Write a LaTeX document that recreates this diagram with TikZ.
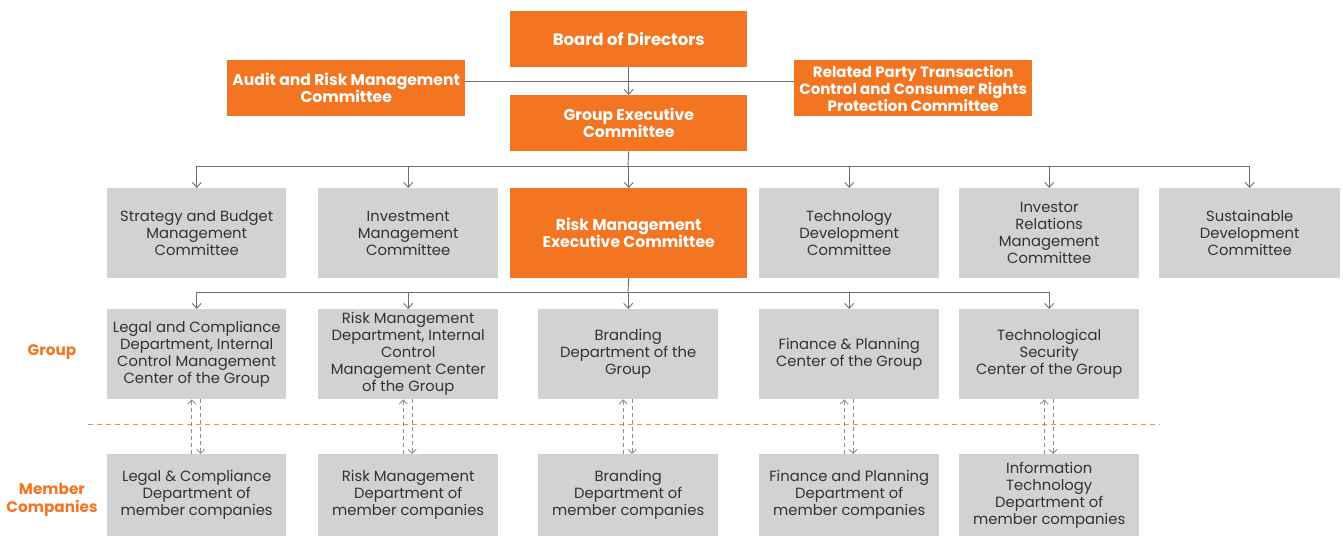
\documentclass[tikz,border=0pt]{standalone}
\usepackage{fontspec}
\setmainfont{Poppins}
\usetikzlibrary{arrows.meta}
\definecolor{brand}{HTML}{F37521}
\definecolor{boxgray}{HTML}{D1D2D4}
\definecolor{txtgray}{HTML}{333333}
\definecolor{linegray}{HTML}{6D6E71}
\tikzset{
  orgbox/.style={fill=boxgray, text=txtgray, align=center, inner sep=0pt,
    font=\fontsize{14.8}{17}\selectfont},
  keybox/.style={fill=brand, text=white, align=center, inner sep=0pt,
    font=\fontsize{15.6}{17}\selectfont\bfseries},
  link/.style={draw=linegray, line width=0.9pt},
  linkarrow/.style={link, -{Straight Barb[length=5pt,width=9pt]}},
  dualarrow/.style={draw=linegray!80, line width=0.9pt, dash pattern=on 4pt off 3pt,
    -{Straight Barb[length=4pt,width=8pt]}},
  sidelabel/.style={text=brand, align=center, font=\fontsize{15.3}{18}\selectfont\bfseries},
}
% place a box by its top-left corner and size (in px units)
\newcommand{\orgnode}[7]{%
  \node[#1, minimum width=#5, minimum height=#6, anchor=north west] (#2) at (#3,#4) {#7};}
\begin{document}
\begin{tikzpicture}[x=1pt,y=-1pt]
\useasboundingbox (0,0) rectangle (1343,537);

% top level
\orgnode{keybox, font=\fontsize{16.5}{17}\selectfont\bfseries}{board}{510}{11}{237}{56}{Board of Directors}
\orgnode{keybox}{audit}{227}{60}{238}{56}{Audit and Risk Management\\Committee}
\orgnode{keybox, font=\fontsize{15}{17}\selectfont\bfseries}{related}{794}{60}{238}{56}{Related Party Transaction\\Control and Consumer Rights\\Protection Committee}
\orgnode{keybox}{gec}{510}{95}{237}{56}{Group Executive\\Committee}

% committees
\orgnode{orgbox}{strat}{107}{188}{179}{90}{Strategy and Budget\\Management\\Committee}
\orgnode{orgbox}{invest}{318}{188}{180}{90}{Investment\\Management\\Committee}
\orgnode{keybox}{rmec}{510}{188}{237}{90}{Risk Management\\Executive Committee}
\orgnode{orgbox}{techdev}{759}{188}{180}{90}{Technology\\Development\\Committee}
\orgnode{orgbox}{investor}{959}{188}{180}{90}{Investor\\Relations\\Management\\Committee}
\orgnode{orgbox}{sustain}{1159}{188}{181}{90}{Sustainable\\Development\\Committee}

% group departments
\orgnode{orgbox}{legal}{107}{309}{179}{90}{Legal and Compliance\\Department, Internal\\Control Management\\Center of the Group}
\orgnode{orgbox}{riskdep}{318}{309}{180}{90}{Risk Management\\Department, Internal\\Control\\Management Center\\of the Group}
\orgnode{orgbox}{brand}{538}{309}{180}{90}{Branding\\Department of the\\Group}
\orgnode{orgbox}{finance}{759}{309}{180}{90}{Finance \& Planning\\Center of the Group}
\orgnode{orgbox}{techsec}{959}{309}{180}{90}{Technological\\Security\\Center of the Group}

% member company departments
\orgnode{orgbox}{mlegal}{107}{454}{179}{82}{Legal \& Compliance\\Department of\\member companies}
\orgnode{orgbox}{mrisk}{318}{454}{180}{82}{Risk Management\\Department of\\member companies}
\orgnode{orgbox}{mbrand}{538}{454}{180}{82}{Branding\\Department of\\member companies}
\orgnode{orgbox}{mfinance}{759}{454}{180}{82}{Finance and Planning\\Department of\\member companies}
\orgnode{orgbox}{mit}{959}{454}{180}{82}{Information\\Technology\\Department of\\member companies}

% side labels
\node[sidelabel] (grouplbl) at (52,352) {Group};
\node[sidelabel] (memberlbl) at (52,500) {Member\\Companies};

% separator between group and member level
\coordinate (sepL) at (88,424);
\coordinate (sepR) at (1160,424);
\draw[draw=brand!85, line width=1pt, dash pattern=on 5pt off 4pt] (sepL) -- (sepR);

% board level connectors
\draw[link] (audit.east |- 0,81) -- (related.west |- 0,81);
\draw[linkarrow] (board.south) -- (gec.north);

% group executive committee to committees
\coordinate (busA) at (628,166);
\draw[link] (gec.south) -- (busA);
\draw[link] (strat.north |- busA) -- (sustain.north |- busA);
\foreach \n in {strat,invest,rmec,techdev,investor,sustain}
  \draw[linkarrow] (\n.north |- busA) -- (\n.north);

% risk management executive committee to departments
\coordinate (busB) at (628,292);
\draw[link] (rmec.south) -- (busB);
\draw[link] (legal.north |- busB) -- (techsec.north |- busB);
\foreach \n in {legal,riskdep,brand,finance,techsec}
  \draw[linkarrow] (\n.north |- busB) -- (\n.north);

% two-way reporting between group and member departments
\foreach \g/\m in {legal/mlegal,riskdep/mrisk,brand/mbrand,finance/mfinance,techsec/mit}{
  \draw[dualarrow] ([xshift=-5pt]\m.north) -- ([xshift=-5pt]\g.south);
  \draw[dualarrow] ([xshift=4pt]\g.south) -- ([xshift=4pt]\m.north);
}
\end{tikzpicture}
\end{document}
